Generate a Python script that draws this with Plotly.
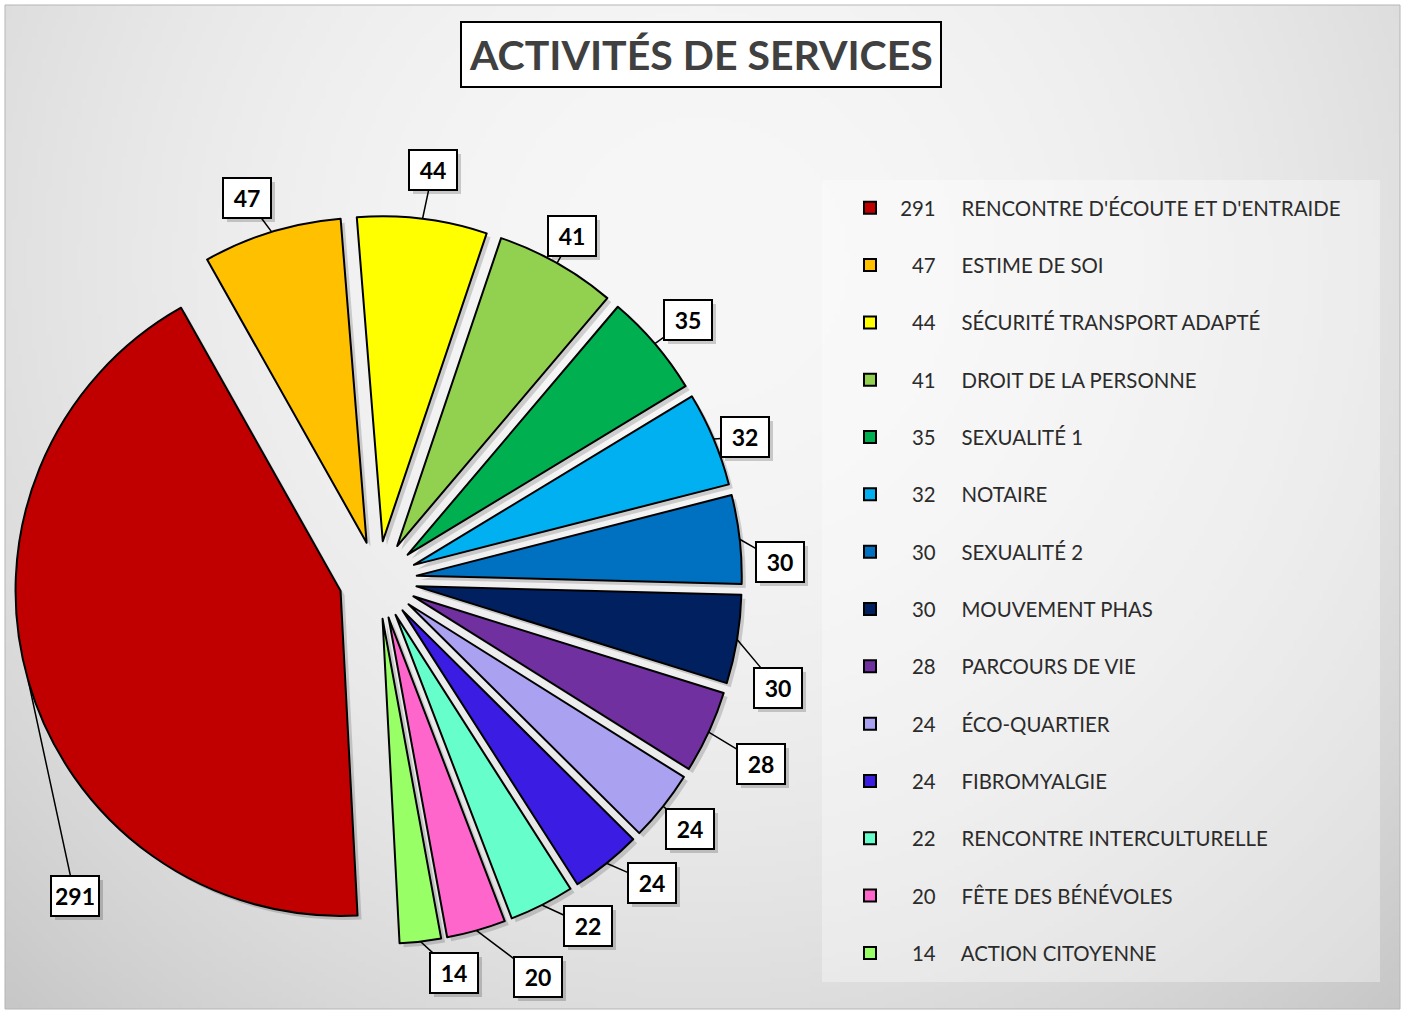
import math, zlib, struct, base64
import plotly.graph_objects as go

# ---------------- data ----------------
labels = ["RENCONTRE D'ÉCOUTE ET D'ENTRAIDE", "ESTIME DE SOI", "SÉCURITÉ TRANSPORT ADAPTÉ",
          "DROIT DE LA PERSONNE", "SEXUALITÉ 1", "NOTAIRE", "SEXUALITÉ 2", "MOUVEMENT PHAS",
          "PARCOURS DE VIE", "ÉCO-QUARTIER", "FIBROMYALGIE", "RENCONTRE INTERCULTURELLE",
          "FÊTE DES BÉNÉVOLES", "ACTION CITOYENNE"]
values = [291, 47, 44, 41, 35, 32, 30, 30, 28, 24, 24, 22, 20, 14]
colors = ["#C00000", "#FFC000", "#FFFF00", "#92D050", "#00B050", "#00B0F0", "#0070C0",
          "#002060", "#7030A0", "#AAA2F0", "#3B1CE2", "#66FFCC", "#FF66CC", "#99FF66"]
title_text = "ACTIVITÉS DE SERVICES"

# label placement tweaks (angle shift in degrees from slice middle, radius in px)
label_shift = [-30, -2, 0.6, 0, 0.5, 1.5, 3.9, 5.7, 0.9, 0.2, -3.2, -4.5, -6.3, -4.3]
label_radius = [438, 404, 414, 395, 405, 394, 402, 414, 425, 399, 408, 405, 428, 400]

# ---------------- layout constants ----------------
W, H = 1407, 1013
FONT = "Lato, 'Open Sans', sans-serif"
ROTATION = 177
PULL = 0.12
dom_x = [14 / W, 742 / W]
dom_y = [1 - 944 / H, 1 - 216 / H]

# background gradient image (pure python png)
def make_png(w, h, fn):
    raw = bytearray()
    for j in range(h):
        raw.append(0)
        for i in range(w):
            g = fn(i, j)
            raw += bytes((g, g, g))
    def chunk(t, d):
        c = struct.pack('>I', len(d)) + t + d
        return c + struct.pack('>I', zlib.crc32(t + d) & 0xffffffff)
    png = (b'\x89PNG\r\n\x1a\n' + chunk(b'IHDR', struct.pack('>IIBBBBB', w, h, 8, 2, 0, 0, 0))
           + chunk(b'IDAT', zlib.compress(bytes(raw), 9)) + chunk(b'IEND', b''))
    return 'data:image/png;base64,' + base64.b64encode(png).decode()

GW, GH = 280, 200
def grad(i, j):
    x = 5 + i * 1395 / GW
    y = 5 + j * 1004 / GH
    d2 = (x - 700) ** 2 + (y - 260) ** 2
    return int(max(195, min(250, 247 - 4.6e-5 * d2)))
bg_src = make_png(GW, GH, grad)

fig = go.Figure()

# shadow pie
fig.add_trace(go.Pie(
    values=values, labels=labels, sort=False, direction="clockwise", rotation=ROTATION,
    pull=PULL, textinfo="none", hoverinfo="skip", showlegend=False,
    marker=dict(colors=["rgba(0,0,0,0.16)"] * len(values), line=dict(width=0)),
    domain=dict(x=[dom_x[0] + 4 / W, dom_x[1] + 4 / W], y=[dom_y[0] - 4 / H, dom_y[1] - 4 / H]),
))

# main pie
fig.add_trace(go.Pie(
    values=values, labels=labels, sort=False, direction="clockwise", rotation=ROTATION,
    pull=PULL, textinfo="none", showlegend=False,
    marker=dict(colors=colors, line=dict(color="black", width=2)),
    domain=dict(x=dom_x, y=dom_y),
))

# legend entries (one group per entry for spacing)
for lab, v, c in zip(labels, values, colors):
    num = str(v) if v >= 100 else "\u2007" + str(v)
    fig.add_trace(go.Scatter(
        x=[None], y=[None], mode="markers",
        name="\u2002" + num + "\u2003\u00a0\u00a0" + lab,
        legendgroup=lab,
        marker=dict(symbol="square", size=12, color=c, line=dict(color="black", width=2)),
    ))

# value labels with leader lines (geometry derived from the pie's domain)
cx = (dom_x[0] + dom_x[1]) / 2 * W
cy = (1 - (dom_y[0] + dom_y[1]) / 2) * H
half = min((dom_x[1] - dom_x[0]) * W, (dom_y[1] - dom_y[0]) * H) / 2
total = sum(values)
shadow_ann, label_ann = [], []
cum = 0
for i, v in enumerate(values):
    mid = math.radians(ROTATION + 360 * (cum + v / 2) / total)
    cum += v
    px = cx + half * math.sin(mid)
    py = cy - half * math.cos(mid)
    a = mid + math.radians(label_shift[i])
    R = label_radius[i]
    lx = cx + R * math.sin(a)
    ly = cy - R * math.cos(a)
    common = dict(x=px / W, y=1 - py / H, xref="paper", yref="paper",
                  showarrow=True, arrowhead=0, standoff=0,
                  borderpad=4, width=38, height=30,
                  font=dict(family=FONT, size=23, color="black"))
    shadow_ann.append(dict(common, text=" ", ax=lx - px + 4, ay=ly - py + 4, arrowwidth=0.1,
                           arrowcolor="rgba(0,0,0,0)",
                           bgcolor="rgba(0,0,0,0.18)", bordercolor="rgba(0,0,0,0)",
                           borderwidth=2))
    label_ann.append(dict(common, text="<b>%d</b>" % v, ax=lx - px, ay=ly - py,
                          arrowwidth=1.5, arrowcolor="black", bgcolor="white",
                          bordercolor="black", borderwidth=2))

# title box
title_ann = dict(
    x=701 / W, y=1 - 55 / H, xref="paper", yref="paper", xanchor="center", yanchor="middle",
    showarrow=False, text="<b>" + title_text + "</b>",
    font=dict(family=FONT, size=41, color="#404040"),
    bgcolor="white", bordercolor="black", borderwidth=2, borderpad=7,
)

fig.update_layout(
    width=W, height=H,
    margin=dict(l=0, r=0, t=0, b=0),
    paper_bgcolor="white", plot_bgcolor="rgba(0,0,0,0)",
    xaxis=dict(visible=False), yaxis=dict(visible=False),
    annotations=shadow_ann + label_ann + [title_ann],
    images=[dict(source=bg_src, xref="paper", yref="paper", x=5 / W, y=1 - 5 / H,
                 sizex=1395 / W, sizey=1004 / H, xanchor="left", yanchor="top",
                 sizing="stretch", layer="below")],
    shapes=[
        dict(type="rect", xref="paper", yref="paper", x0=822 / W, x1=1380 / W,
             y0=1 - 982 / H, y1=1 - 180 / H, fillcolor="rgba(255,255,255,0.35)",
             line=dict(width=0), layer="below"),
        dict(type="rect", xref="paper", yref="paper", x0=5 / W, x1=1400 / W,
             y0=1 - 1009 / H, y1=1 - 5 / H, fillcolor="rgba(0,0,0,0)",
             line=dict(color="#b5b5b5", width=1), layer="above"),
    ],
    legend=dict(
        x=850 / W, y=1 - 188 / H, xanchor="left", yanchor="top",
        bgcolor="rgba(0,0,0,0)", borderwidth=0, traceorder="grouped",
        tracegroupgap=27.8, font=dict(family=FONT, size=20.4, color="#2b2b2b"),
        itemclick=False, itemdoubleclick=False,
    ),
    showlegend=True,
)

fig.write_html("out.html", config={"displayModeBar": False},
               post_script="document.body.style.margin='0';")
